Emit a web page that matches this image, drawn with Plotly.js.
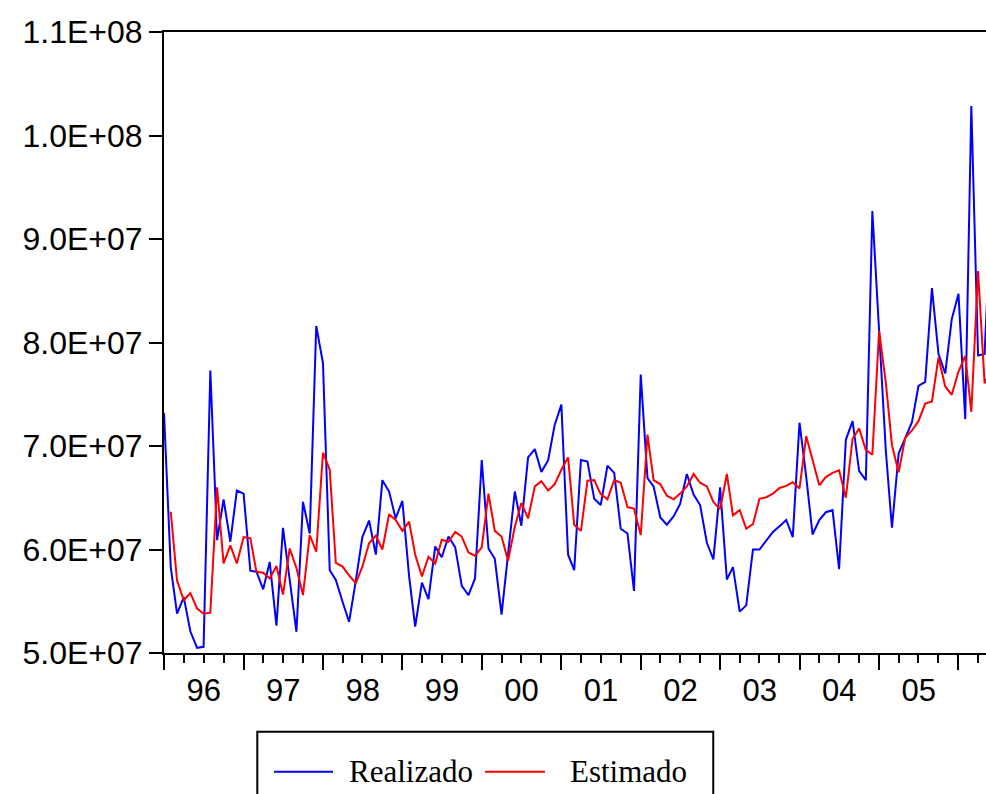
<!DOCTYPE html>
<html>
<head>
<meta charset="utf-8">
<script src="https://cdn.plot.ly/plotly-3.0.1.min.js"></script>
<style>
  html, body { margin: 0; padding: 0; background: #ffffff; overflow: hidden; }
  #chart { width: 986px; height: 794px; }
</style>
</head>
<body>
<div id="chart"></div>
<script>
// ---- Data (monthly, Jan 1996 onward; values in millions) ----
const startYear = 1996;
const realizado = [
  73.2, 58.3, 53.8, 55.4, 52.1, 50.5, 50.6, 77.3, 60.9, 64.85, 60.75, 65.7,
  65.4, 57.95, 57.85, 56.15, 58.8, 52.65, 62.1, 57.05, 52.05, 64.6, 61.55, 81.6,
  78.0, 58.0, 57.05, 54.95, 53.0, 57.0, 61.2, 62.8, 59.5, 66.7, 65.6, 63.0,
  64.7, 57.4, 52.55, 56.8, 55.2, 60.3, 59.25, 61.25, 60.2, 56.5, 55.6, 57.2,
  68.65, 60.1, 59.1, 53.7, 59.5, 65.6, 62.3, 68.9, 69.7, 67.5, 68.6, 72.0,
  74.0, 59.5, 58.0, 68.65, 68.5, 64.9, 64.3, 68.1, 67.4, 62.0, 61.55, 56.0,
  76.9, 66.9, 66.1, 63.1, 62.4, 63.2, 64.4, 67.3, 65.3, 64.3, 60.65, 59.05,
  66.0, 57.1, 58.3, 54.0, 54.6, 60.0, 60.0, 60.9, 61.7, 62.25, 62.85, 61.2,
  72.25, 67.0, 61.45, 62.85, 63.6, 63.8, 58.1, 70.6, 72.4, 67.6, 66.7, 92.7,
  81.0, 69.5, 62.1, 69.3, 70.75, 72.3, 75.8, 76.2, 85.25, 78.9, 77.0, 82.25,
  84.7, 72.6, 102.85, 78.75, 78.9, 93.0
];
const estimado = [
  null, 63.65, 57.0, 55.1, 55.8, 54.3, 53.8, 53.9, 66.0, 58.65, 60.4, 58.65,
  61.2, 61.1, 57.85, 57.75, 57.2, 58.4, 55.65, 60.1, 58.2, 55.6, 61.4, 59.8,
  69.35, 67.7, 58.7, 58.35, 57.5, 56.75, 58.35, 60.6, 61.35, 60.0, 63.4, 62.85,
  61.8, 62.7, 59.5, 57.4, 59.3, 58.65, 60.95, 60.75, 61.7, 61.25, 59.7, 59.4,
  60.2, 65.4, 61.8, 61.25, 58.9, 62.2, 64.5, 63.0, 66.1, 66.6, 65.7, 66.3,
  67.7, 68.9, 62.4, 61.8, 66.65, 66.7, 65.35, 64.85, 66.7, 66.45, 64.1, 63.95,
  61.4, 71.1, 66.7, 66.3, 65.2, 64.85, 65.4, 66.1, 67.3, 66.45, 66.1, 64.6,
  63.9, 67.3, 63.3, 63.8, 62.0, 62.45, 64.9, 65.05, 65.4, 65.95, 66.15, 66.5,
  65.9, 70.95, 68.6, 66.2, 67.0, 67.4, 67.65, 65.0, 70.7, 71.7, 69.6, 69.15,
  81.1, 76.1, 70.1, 67.45, 70.8, 71.5, 72.4, 74.1, 74.3, 78.55, 75.75, 74.95,
  77.2, 78.7, 73.3, 86.9, 76.05, 77.5
];
const seriesNames = ["Realizado", "Estimado"];
const seriesColors = ["#0000ff", "#ff0000"];
const yTickVals = [5.0e7, 6.0e7, 7.0e7, 8.0e7, 9.0e7, 1.0e8, 1.1e8];
const yTickText = ["5.0E+07", "6.0E+07", "7.0E+07", "8.0E+07", "9.0E+07", "1.0E+08", "1.1E+08"];
const UNIT = 1e6;

// month dates for the x axis
const months = realizado.map((_, i) => {
  const y = startYear + Math.floor(i / 12);
  const m = (i % 12) + 1;
  return y + "-" + String(m).padStart(2, "0") + "-01";
});

const traces = [realizado, estimado].map((vals, k) => ({
  x: months, y: vals.map(v => v == null ? null : v * UNIT),
  type: "scatter", mode: "lines", name: seriesNames[k],
  line: { color: seriesColors[k], width: 2 },
  showlegend: false
}));

const axisFont = { family: "Liberation Sans, Arial, Helvetica, sans-serif", size: 31, color: "#000" };
const legendFont = { family: "Liberation Serif, Times New Roman, serif", size: 31, color: "#000" };

// legend box (drawn as shapes + text below the plot area, in paper units)
const legendBox = { x0: 0.1135, x1: 0.6682, y0: -0.1267, y1: -0.30 };
const legendRowY = -0.1911;
const legendItems = [
  { lineX0: 0.1338, lineX1: 0.2056, textX: 0.2223 },
  { lineX0: 0.3905, lineX1: 0.4635, textX: 0.4915 }
];

const shapes = [
  { type: "rect", xref: "paper", yref: "paper",
    x0: legendBox.x0, x1: legendBox.x1, y0: legendBox.y0, y1: legendBox.y1,
    line: { color: "#000", width: 2 }, fillcolor: "rgba(0,0,0,0)" }
].concat(legendItems.map((it, k) => ({
  type: "line", xref: "paper", yref: "paper",
  x0: it.lineX0, x1: it.lineX1, y0: legendRowY, y1: legendRowY,
  line: { color: seriesColors[k], width: 2 }
})));

const annotations = legendItems.map((it, k) => ({
  xref: "paper", yref: "paper", x: it.textX, y: legendRowY,
  xanchor: "left", yanchor: "middle", showarrow: false,
  text: seriesNames[k], font: legendFont
}));

const layout = {
  width: 986, height: 794,
  margin: { l: 164, r: 0, t: 32, b: 141, pad: 0 },
  paper_bgcolor: "#ffffff", plot_bgcolor: "#ffffff",
  showlegend: false,
  xaxis: {
    type: "date",
    range: ["1996-01-01", "2006-05-07 12:00"],
    dtick: "M12", tick0: "1996-01-01",
    ticklabelmode: "period", tickformat: "%y",
    ticks: "outside", ticklen: 15, tickwidth: 2, tickcolor: "#000",
    minor: { dtick: "M3", ticks: "outside", ticklen: 8, tickwidth: 2, tickcolor: "#000" },
    showline: true, linecolor: "#000", linewidth: 2, mirror: true,
    showgrid: false, zeroline: false, automargin: false,
    ticklabelstandoff: -6,
    tickfont: axisFont
  },
  yaxis: {
    range: [5.0e7, 1.1e8],
    tickmode: "array", tickvals: yTickVals, ticktext: yTickText,
    ticks: "outside", ticklen: 13, tickwidth: 2, tickcolor: "#000",
    showline: true, linecolor: "#000", linewidth: 2, mirror: false,
    showgrid: false, zeroline: false, automargin: false,
    tickfont: Object.assign({}, axisFont, { size: 32 })
  },
  shapes: shapes,
  annotations: annotations
};

Plotly.newPlot("chart", traces, layout, { displayModeBar: false, staticPlot: true });
</script>
</body>
</html>
